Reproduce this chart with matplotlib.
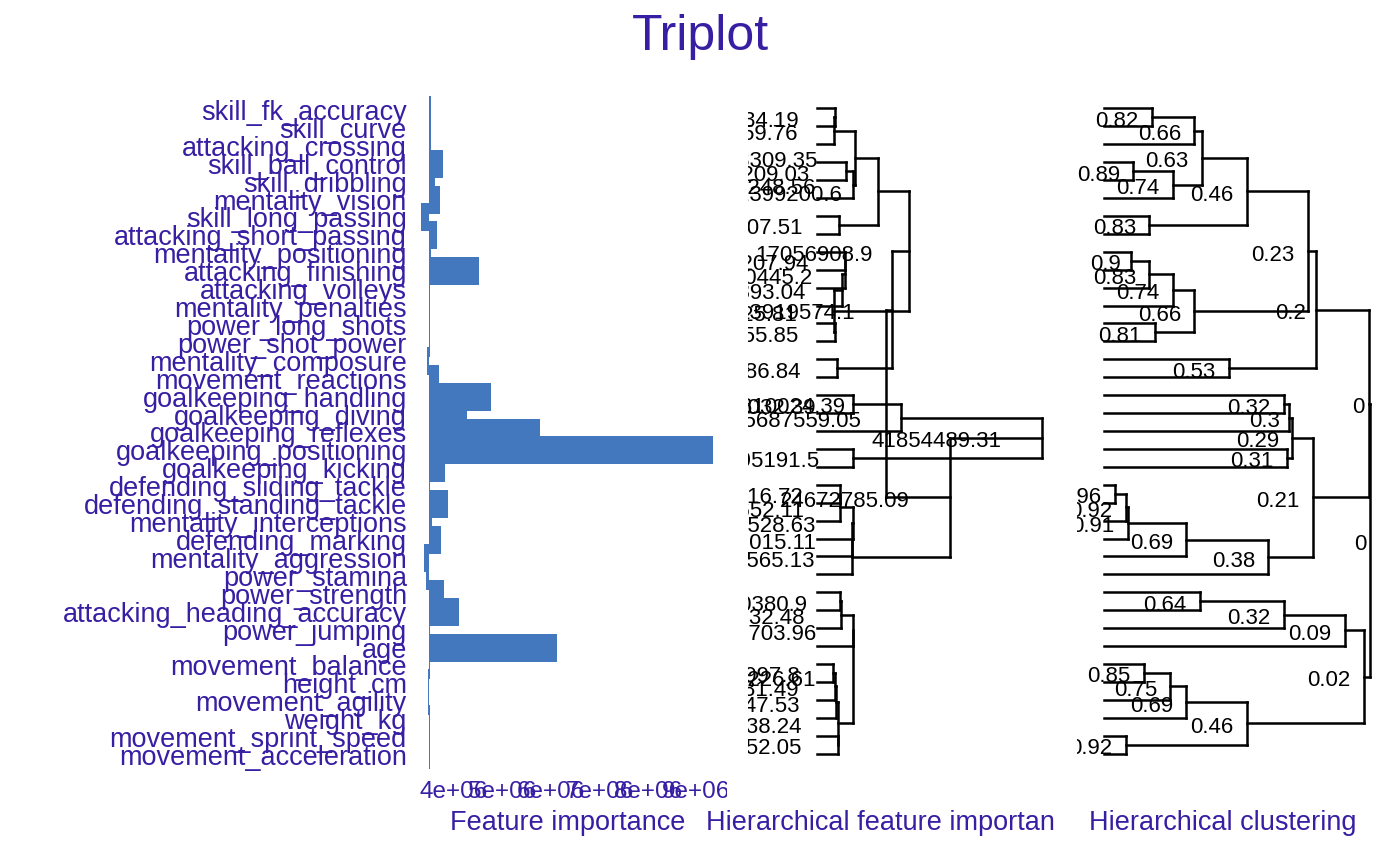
import numpy as np
import matplotlib
matplotlib.use("Agg")
import matplotlib.pyplot as plt
import matplotlib.transforms as mtransforms
from matplotlib.collections import LineCollection
from matplotlib.transforms import Bbox, TransformedBbox

W, H, DPI = 1400, 865, 100
TXT = "#371ea3"
BAR = "#4378bf"
plt.rcParams["font.family"] = ["Liberation Sans", "DejaVu Sans"]

# ---- data -------------------------------------------------------------
features = [
    "skill_fk_accuracy", "skill_curve", "attacking_crossing", "skill_ball_control",
    "skill_dribbling", "mentality_vision", "skill_long_passing", "attacking_short_passing",
    "mentality_positioning", "attacking_finishing", "attacking_volleys", "mentality_penalties",
    "power_long_shots", "power_shot_power", "mentality_composure", "movement_reactions",
    "goalkeeping_handling", "goalkeeping_diving", "goalkeeping_reflexes", "goalkeeping_positioning",
    "goalkeeping_kicking", "defending_sliding_tackle", "defending_standing_tackle",
    "mentality_interceptions", "defending_marking", "mentality_aggression", "power_stamina",
    "power_strength", "attacking_heading_accuracy", "power_jumping", "age", "movement_balance",
    "height_cm", "movement_agility", "weight_kg", "movement_sprint_speed", "movement_acceleration",
]
# dropout loss per feature (millions)
dropout_loss = [
    3.52, 3.52, 3.52, 3.77, 3.61, 3.71, 3.32, 3.65, 3.52, 4.52,
    3.51, 3.51, 3.51, 3.51, 3.44, 3.69, 4.76, 4.27, 5.77, 9.34,
    3.81, 3.51, 3.88, 3.55, 3.73, 3.38, 3.42, 3.79, 4.10, 3.51,
    6.12, 3.51, 3.47, 3.47, 3.51, 3.51, 3.51,
]
full_model_loss = 3.49
x_ticks = [4, 5, 6, 7, 8, 9]
x_tick_labels = ["4e+06", "5e+06", "6e+06", "7e+06", "8e+06", "9e+06"]

# hclust-style merges: negative = leaf (1-based, top to bottom), positive = merge row
merge_a = [-1, 1, -4, 3, 2, -7, 5, -9, 8, 9, -13, 10, 7, -15, 13, -17, 16, -20, 17,
           -22, 20, 21, 22, 23, 19, 15, -28, 27, 28, -32, 30, 31, -36, 32, 29, 26]
merge_b = [-2, -3, -5, -6, 4, -8, 6, -10, -11, -12, -14, 11, 12, -16, 14, -18, -19, -21, 18,
           -23, -24, -25, -26, -27, 24, 25, -29, -30, -31, -33, -34, -35, -37, 33, 34, 35]
# similarity of each merge (right panel)
similarity = [0.82, 0.66, 0.89, 0.74, 0.63, 0.83, 0.46, 0.90, 0.83, 0.74, 0.81, 0.66,
              0.23, 0.53, 0.20, 0.32, 0.30, 0.31, 0.29, 0.96, 0.92, 0.91, 0.69, 0.38,
              0.21, 0.0, 0.64, 0.32, 0.09, 0.85, 0.75, 0.69, 0.92, 0.46, 0.02, -0.004]
# hierarchical importance of each merge (middle panel), nan = not shown
hier_importance = [
    3348134.19, 3162459.76, 5394209.03, 6696248.56, 7068309.35, 4092007.51,
    11399200.6, 5207207.94, 5210445.2, 4653393.04, 3349955.85, 3161625.81,
    17056908.9, 3720386.84, 13919574.1, 6701032.39, 15687559.05, 6695191.5,
    41854489.31, 4281016.72, 4279652.11, 6697528.63, 6511015.11, 6509565.13,
    24672785.09, 12810024.39, 4280380.9, 4460832.48, 6696703.96, 2976997.8,
    3348281.49, 3534847.53, 3906452.05, 3906138.24, 6698226.61, np.nan,
]


def px_axes(fig, x0, x1, top, bottom):
    return fig.add_axes([x0 / W, (H - bottom) / H, (x1 - x0) / W, (bottom - top) / H])


def draw_dendrogram(ax, heights, leaf_h, labels):
    xs, ys, segs = [], [], []

    def pos(ref):
        if ref < 0:
            return leaf_h, -ref - 1
        return xs[ref - 1], ys[ref - 1]

    for a, b, h in zip(merge_a, merge_b, heights):
        xa, ya = pos(a)
        xb, yb = pos(b)
        xs.append(h)
        ys.append((ya + yb) / 2)
        if np.isnan(h):
            continue
        segs += [[(xa, ya), (h, ya)], [(xb, yb), (h, yb)], [(h, ya), (h, yb)]]
    ax.add_collection(LineCollection(segs, colors="black", linewidths=1.8,
                                     capstyle="projecting"))
    renderer = ax.figure.canvas.get_renderer()
    for x, y, lab in zip(xs, ys, labels):
        if np.isnan(x):
            continue
        t = ax.text(x, y, lab, fontsize=16, ha="right", va="center_baseline",
                    color="black", clip_on=True)
        w = t.get_window_extent(renderer).width
        t.set_transform(ax.transData + mtransforms.ScaledTranslation(
            -0.31 * w / DPI, -1.5 / DPI, ax.figure.dpi_scale_trans))


def r_num(v):
    return f"{round(v, 2):.2f}".rstrip("0").rstrip(".")


fig = plt.figure(figsize=(W / DPI, H / DPI), dpi=DPI)
rows = np.arange(len(features))

# ---- feature importance -------------------------------------------------
ax1 = px_axes(fig, 409, 725, 92, 773)
loss = np.array(dropout_loss)
ax1.barh(rows, loss - full_model_loss, left=full_model_loss, height=1.56,
         color=BAR, linewidth=0)
ax1.set_ylim(37, -1)
ax1.set_xlim(3.072, 9.588)
ax1.set_yticks(rows)
ax1.set_yticklabels(features)
ax1.set_xticks(x_ticks)
ax1.set_xticklabels(x_tick_labels)
ax1.tick_params(axis="y", length=0, pad=1.5, labelsize=19.5, labelcolor=TXT)
ax1.tick_params(axis="x", length=0, pad=5.5, labelsize=17.5, labelcolor=TXT)
for s in ax1.spines.values():
    s.set_visible(False)
clip_left = TransformedBbox(Bbox.from_extents(0, 0, 727 / W, 1), fig.transFigure)
for lbl in ax1.get_xticklabels():
    lbl.set_clip_box(clip_left)
    lbl.set_clip_on(True)

# ---- hierarchical feature importance --------------------------------------
ax2 = px_axes(fig, 748, 1055, 90.5, 771.5)
ax2.set_xlim(-12.835e6, 44.27e6)
ax2.set_ylim(37, -1)
ax2.axis("off")
draw_dendrogram(ax2, hier_importance, 0.0,
                [r_num(v) if not np.isnan(v) else "" for v in hier_importance])

# ---- hierarchical clustering --------------------------------------------
ax3 = px_axes(fig, 1077, 1400, 90.5, 771.5)
ax3.set_xlim(1.1036, -0.118)
ax3.set_ylim(37, -1)
ax3.axis("off")
draw_dendrogram(ax3, similarity, 1.0,
                ["%g" % (round(s, 2) + 0.0) for s in similarity])

# ---- titles ----------------------------------------------------------------
fig.text(700 / W, 1 - 37 / H, "Triplot", fontsize=36, color=TXT, ha="center", va="center")
fig.text(567.5 / W, 1 - 823 / H, "Feature importance", fontsize=19.5, color=TXT,
         ha="center", va="center")
mid = fig.text(895 / W, 1 - 823 / H, "Hierarchical feature importance", fontsize=19.5,
               color=TXT, ha="center", va="center")
mid.set_clip_box(TransformedBbox(Bbox.from_extents(700 / W, 0, 1055 / W, 1), fig.transFigure))
mid.set_clip_on(True)
fig.text(1223 / W, 1 - 823 / H, "Hierarchical clustering", fontsize=19.5, color=TXT,
         ha="center", va="center")

fig.savefig("out.png", dpi=DPI)
